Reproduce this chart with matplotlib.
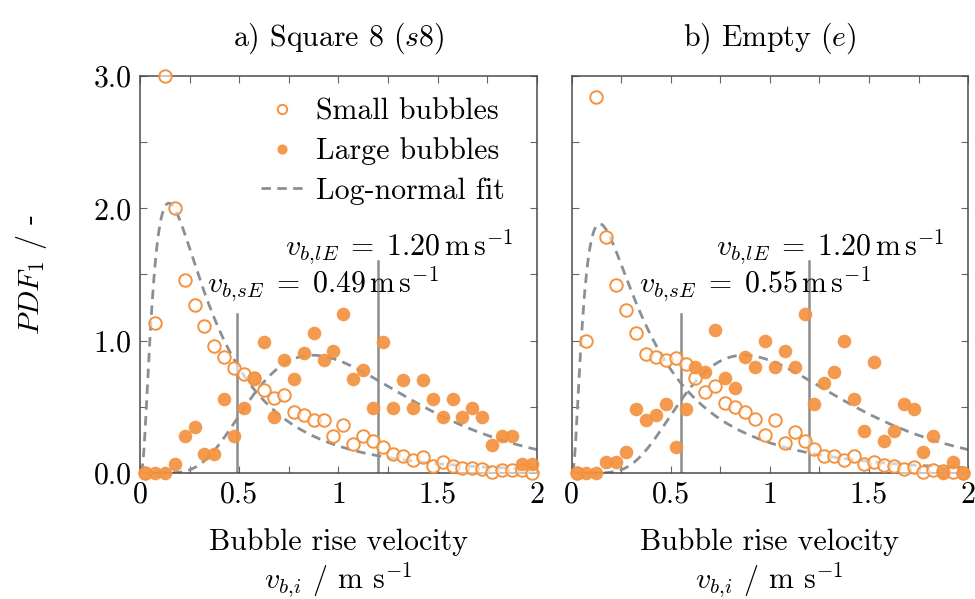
import numpy as np
import matplotlib
matplotlib.use('Agg')
import matplotlib.pyplot as plt
from matplotlib.ticker import MultipleLocator, FixedLocator, FixedFormatter

plt.rcParams['font.family'] = 'serif'
plt.rcParams['font.serif'] = ['cmr10']
plt.rcParams['mathtext.fontset'] = 'cm'
plt.rcParams['axes.formatter.use_mathtext'] = True
fs = 21.5

# bin centres of the velocity histograms (m/s)
v_bins = [0.025, 0.075, 0.125, 0.175, 0.225, 0.275, 0.325, 0.375, 0.425, 0.475,
          0.525, 0.575, 0.625, 0.675, 0.725, 0.775, 0.825, 0.875, 0.925, 0.975,
          1.025, 1.075, 1.125, 1.175, 1.225, 1.275, 1.325, 1.375, 1.425, 1.475,
          1.525, 1.575, 1.625, 1.675, 1.725, 1.775, 1.825, 1.875, 1.925, 1.975]

# a) square 8 internals
s8_small = [0.0, 1.13, 3.0, 2.0, 1.46, 1.27, 1.11, 0.96, 0.88, 0.79,
            0.75, 0.72, 0.63, 0.57, 0.59, 0.46, 0.44, 0.40, 0.40, 0.28,
            0.36, 0.22, 0.28, 0.24, 0.20, 0.14, 0.13, 0.10, 0.12, 0.05,
            0.08, 0.05, 0.04, 0.04, 0.03, 0.01, 0.02, 0.02, 0.02, 0.0]
s8_large = [0.0, 0.0, 0.0, 0.07, 0.28, 0.35, 0.14, 0.14, 0.56, 0.28,
            0.49, 0.71, 0.99, 0.42, 0.85, 0.71, 0.91, 1.06, 0.85, 0.92,
            1.20, 0.71, 0.78, 0.49, 0.99, 0.49, 0.70, 0.49, 0.70, 0.56,
            0.42, 0.56, 0.42, 0.49, 0.42, 0.21, 0.28, 0.28, 0.07, 0.07]

# b) empty column
e_small = [0.0, 1.0, 2.84, 1.78, 1.42, 1.23, 1.06, 0.90, 0.88, 0.85,
           0.87, 0.82, 0.72, 0.61, 0.66, 0.53, 0.50, 0.46, 0.41, 0.29,
           0.40, 0.23, 0.31, 0.24, 0.18, 0.13, 0.13, 0.10, 0.13, 0.07,
           0.08, 0.06, 0.05, 0.03, 0.045, 0.01, 0.025, 0.015, 0.01, 0.0]
e_large = [0.0, 0.0, 0.0, 0.08, 0.08, 0.16, 0.48, 0.40, 0.44, 0.52,
           0.20, 0.48, 0.80, 0.76, 1.08, 0.72, 0.64, 0.88, 0.80, 1.00,
           0.80, 0.92, 0.80, 1.20, 0.52, 0.68, 0.76, 1.00, 0.56, 0.32,
           0.84, 0.24, 0.32, 0.52, 0.48, 0.16, 0.28, 0.0, 0.08, 0.0]

# log-normal fit parameters (mu, sigma) per panel: small, large
s8_fit_small = (-1.121, 0.90)
s8_fit_large = (0.075, 0.463)
e_fit_small = (-1.049, 0.95)
e_fit_large = (0.075, 0.463)

# expected velocities
s8_vE = [0.49, 1.20]
e_vE = [0.55, 1.20]

titles = ['a) Square 8 ($s8$)', 'b) Empty ($e$)']

orange = '#F4923F'
fit_grey = '#8a8f96'
line_grey = '#8c8c8c'


def lognormal(x, mu, sigma):
    return np.exp(-(np.log(x) - mu) ** 2 / (2 * sigma ** 2)) / (x * sigma * np.sqrt(2 * np.pi))


fig = plt.figure(figsize=(9.75, 5.99), dpi=100)
ax1 = fig.add_axes([0.1436, 0.2104, 0.4070, 0.6628])
ax2 = fig.add_axes([0.5862, 0.2104, 0.4067, 0.6628])

panels = [(ax1, s8_small, s8_large, s8_fit_small, s8_fit_large, s8_vE),
          (ax2, e_small, e_large, e_fit_small, e_fit_large, e_vE)]

xf = np.linspace(0.005, 2.0, 400)
for i, (ax, small, large, fsm, flg, vE) in enumerate(panels):
    ax.plot(xf, lognormal(xf, *fsm), color=fit_grey, lw=2.0, dashes=(3.4, 2.3), zorder=2,
            label='Log-normal fit')
    ax.plot(xf, lognormal(xf, *flg), color=fit_grey, lw=2.0, dashes=(3.4, 2.3), zorder=2)

    ax.plot([vE[0], vE[0]], [0, 1.2], color=line_grey, lw=1.8, zorder=2.5)
    ax.plot([vE[1], vE[1]], [0, 1.6], color=line_grey, lw=1.8, zorder=2.5)

    ax.plot(v_bins, small, 'o', ms=9.0, mfc=(1, 1, 1, 0.6), mec=orange, mew=1.4,
            zorder=3, clip_on=False, label='Small bubbles')
    ax.plot(v_bins, large, 'o', ms=9.8, mfc=orange, mec='none', alpha=0.92,
            zorder=4, clip_on=False, label='Large bubbles')

    ax.text(0.34, 1.36, r'$v_{b,\!sE} \;=\; %.2f\,\mathrm{m\,s}^{-1}$' % vE[0],
            ha='left', va='baseline', fontsize=fs)
    ax.text(0.73, 1.645, r'$v_{b,\!lE} \;=\; %.2f\,\mathrm{m\,s}^{-1}$' % vE[1],
            ha='left', va='baseline', fontsize=fs)

    ax.set_xlim(0, 2)
    ax.set_ylim(0, 3)
    ax.xaxis.set_major_locator(FixedLocator([0, 0.5, 1, 1.5, 2]))
    ax.xaxis.set_major_formatter(FixedFormatter(['0', '0.5', '1', '1.5', '2']))
    ax.xaxis.set_minor_locator(MultipleLocator(0.25))
    ax.yaxis.set_major_locator(FixedLocator([0, 1, 2, 3]))
    ax.yaxis.set_major_formatter(FixedFormatter(['0.0', '1.0', '2.0', '3.0']))
    ax.yaxis.set_minor_locator(MultipleLocator(0.5))
    ax.tick_params(which='both', direction='in', top=True, right=True, length=5,
                   width=0.8, color='#666666', labelsize=fs, pad=6)
    for sp in ax.spines.values():
        sp.set_color('#4a4a4a')
        sp.set_linewidth(1.1)
    ax.set_title(titles[i], fontsize=fs, pad=22)
    ax.set_xlabel('Bubble rise velocity\n' + r'$v_{b,\!i}$ / m s$^{-1}$', fontsize=fs,
                  labelpad=14, linespacing=1.15)

ax2.tick_params(labelleft=False)
ax1.set_ylabel(r'$PDF_1$ / -', fontsize=fs, labelpad=32)

h, l = ax1.get_legend_handles_labels()
order = [1, 2, 0]
leg = ax1.legend([h[j] for j in order], [l[j] for j in order], loc='upper right',
                 bbox_to_anchor=(0.95, 0.975), frameon=False, fontsize=fs, handlelength=1.4,
                 handletextpad=0.45, labelspacing=0.4, markerscale=0.75, borderaxespad=0)

fig.savefig('out.png', dpi=100)
